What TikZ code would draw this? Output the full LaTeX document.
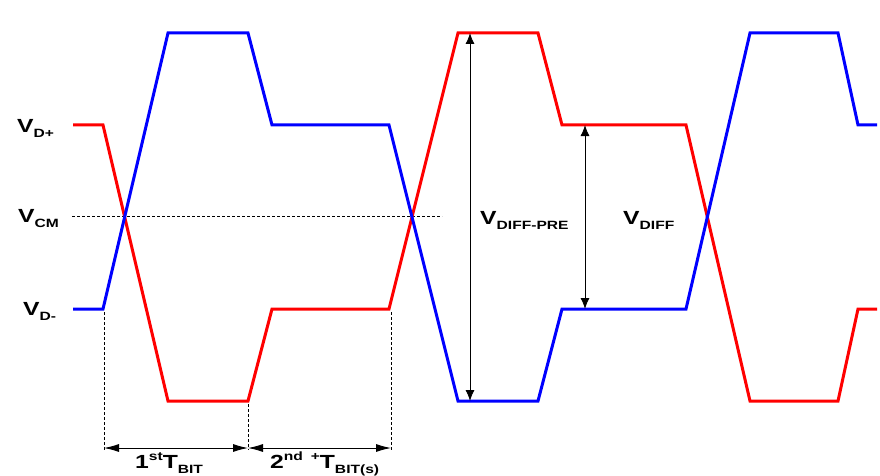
\documentclass[tikz,border=0pt]{standalone}
\usepackage{fontspec}
\setmainfont{Liberation Sans}
\usetikzlibrary{arrows.meta}
\newcommand{\VLab}[2]{\scalebox{1.3}[1]{\bfseries\fontsize{19}{19}\selectfont #1\raisebox{-5pt}{\fontsize{12}{12}\selectfont #2}}}
\newcommand{\TLab}[3]{\scalebox{1.3}[1]{\bfseries\fontsize{19}{19}\selectfont #1\raisebox{8pt}{\fontsize{12}{12}\selectfont #2}T\raisebox{-5pt}{\fontsize{12}{12}\selectfont #3}}}
\tikzset{
  wave/.style={line width=3pt, line join=miter},
  redwave/.style={wave, draw={rgb,255:red,255;green,0;blue,0}},
  bluewave/.style={wave, draw={rgb,255:red,0;green,0;blue,255}},
  guide/.style={draw=black, line width=0.8pt, dash pattern=on 3pt off 2pt},
  vdim/.style={draw=black, line width=0.9pt, {Latex[length=11pt,width=9pt]}-{Latex[length=11pt,width=9pt]}},
  hdim/.style={draw=black, line width=0.9pt, {Latex[length=15pt,width=8pt]}-{Latex[length=15pt,width=8pt]}},
  lab/.style={inner sep=0pt, anchor=base west}
}
\begin{document}
\begin{tikzpicture}[x=1pt,y=-1pt]
\useasboundingbox[fill=white] (0,0) rectangle (880,476);
% level labels
\node[lab] (vdp) at (17,132) {\VLab{V}{D+}};
\node[lab] (vcm) at (18,222) {\VLab{V}{CM}};
\node[lab] (vdm) at (23,315) {\VLab{V}{D-}};
% common mode line
\coordinate (cmL) at (72,216);
\coordinate (cmR) at (442,216);
\draw[guide] (cmL) -- (cmR);
% waveforms
\draw[redwave] (73,125) -- (103,125) -- (168,401) -- (248,401) -- (272,309) -- (389,309) -- (458,33) -- (538,33) -- (562,125) -- (686,125) -- (750,401) -- (838,401) -- (858,309) -- (877,309);
\draw[bluewave] (73,309) -- (103,309) -- (168,33) -- (248,33) -- (272,125) -- (389,125) -- (458,401) -- (538,401) -- (562,309) -- (686,309) -- (750,33) -- (838,33) -- (858,125) -- (877,125);
% vertical guides
\coordinate (g1t) at (104,312); \coordinate (g1b) at (104,450);
\coordinate (g2t) at (248,404); \coordinate (g2b) at (248,450);
\coordinate (g3t) at (391,312); \coordinate (g3b) at (391,450);
\draw[guide] (g1t) -- (g1b);
\draw[guide] (g2t) -- (g2b);
\draw[guide] (g3t) -- (g3b);
% time dimensions
\coordinate (t1) at (104,448); \coordinate (t2) at (248,448); \coordinate (t3) at (391,448);
\draw[hdim] (t1) -- (t2);
\draw[hdim] (t2) -- (t3);
\node[lab] (tb1) at (135,468) {\TLab{1}{st}{BIT}};
\node[lab] (tb2) at (270,468) {\TLab{2}{nd\,\,\,+}{BIT(s)}};
% voltage dimensions
\coordinate (dpt) at (470,33); \coordinate (dpb) at (470,401);
\draw[vdim] (dpt) -- (dpb);
\coordinate (dt) at (585,125); \coordinate (db) at (585,309);
\draw[vdim] (dt) -- (db);
\node[lab] (vdpre) at (480,224) {\VLab{V}{DIFF-PRE}};
\node[lab] (vdiff) at (623,224) {\VLab{V}{DIFF}};
\end{tikzpicture}
\end{document}
